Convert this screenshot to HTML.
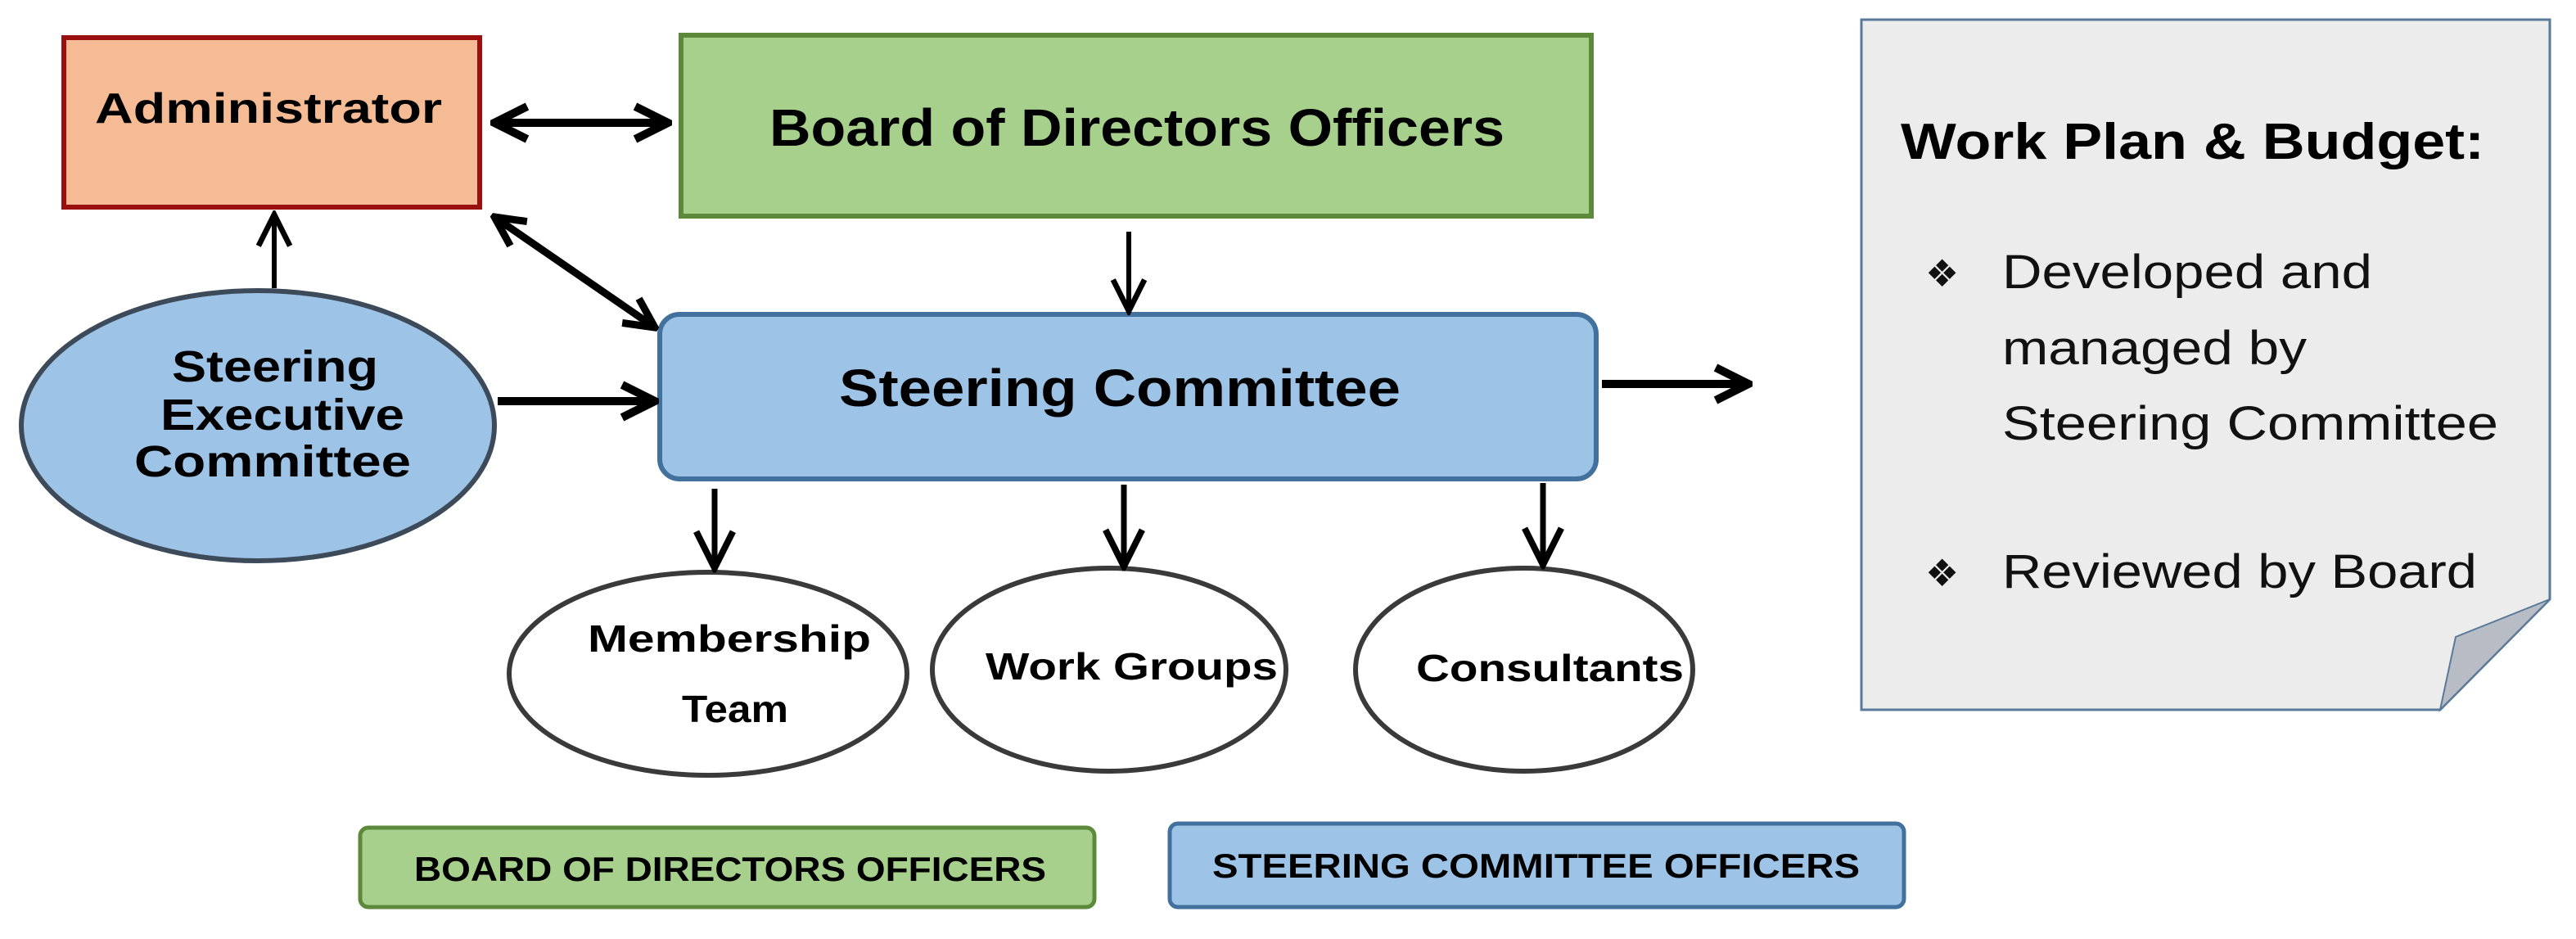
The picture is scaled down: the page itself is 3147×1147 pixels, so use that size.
<!DOCTYPE html>
<html><head><meta charset="utf-8"><style>
html,body{margin:0;padding:0;background:#fff;}
svg{display:block;}
text{font-family:"Liberation Sans",sans-serif;}
</style></head><body>
<svg width="3147" height="1147" viewBox="0 0 3147 1147" xmlns="http://www.w3.org/2000/svg">
<defs>
<marker id="ah" viewBox="0 0 10 10" refX="9" refY="5" markerWidth="5" markerHeight="5" orient="auto-start-reverse" markerUnits="strokeWidth">
<path d="M1,1 L9,5 L1,9" fill="none" stroke="#000" stroke-width="2"/>
</marker>
<marker id="ah2" viewBox="0 0 10 10" refX="9" refY="5" markerWidth="8" markerHeight="8" orient="auto-start-reverse" markerUnits="strokeWidth">
<path d="M1,1 L9,5 L1,9" fill="none" stroke="#000" stroke-width="1.4"/>
</marker>
</defs>

<!-- Note -->
<path d="M2274,24 L3115,24 L3115,732 L2981,867 L2274,867 Z" fill="#ececec" stroke="#5a7a9a" stroke-width="3"/>
<path d="M3115,732 L2981,867 L3000,778 Z" fill="#b8bcc4" stroke="#5a7a9a" stroke-width="2"/>
<text x="2322" y="194" font-size="62" font-weight="bold" textLength="713" lengthAdjust="spacingAndGlyphs">Work Plan &amp; Budget:</text>
<g font-size="58" fill="#111">
<text x="2352" y="350" font-size="46">❖</text>
<text x="2446" y="352" textLength="452" lengthAdjust="spacingAndGlyphs">Developed and</text>
<text x="2446" y="445" textLength="372" lengthAdjust="spacingAndGlyphs">managed by</text>
<text x="2446" y="537" textLength="606" lengthAdjust="spacingAndGlyphs">Steering Committee</text>
<text x="2352" y="716" font-size="46">❖</text>
<text x="2446" y="718" textLength="580" lengthAdjust="spacingAndGlyphs">Reviewed by Board</text>
</g>

<!-- Administrator -->
<rect x="78" y="46" width="508" height="207" fill="#f5bb95" stroke="#9a0f0f" stroke-width="6"/>
<text x="116" y="150" font-size="52" font-weight="bold" textLength="424" lengthAdjust="spacingAndGlyphs">Administrator</text>

<!-- Board -->
<rect x="832" y="43" width="1112" height="221" fill="#a8d08d" stroke="#5c8a3a" stroke-width="6"/>
<text x="940" y="178" font-size="64" font-weight="bold" textLength="898" lengthAdjust="spacingAndGlyphs">Board of Directors Officers</text>

<!-- Steering Committee -->
<rect x="806" y="384" width="1144" height="201" rx="24" fill="#9dc3e6" stroke="#41719c" stroke-width="6"/>
<text x="1025" y="496" font-size="64" font-weight="bold" textLength="686" lengthAdjust="spacingAndGlyphs">Steering Committee</text>

<!-- Steering Exec ellipse -->
<ellipse cx="315" cy="520" rx="289" ry="165" fill="#9dc3e6" stroke="#3d4a5a" stroke-width="6"/>
<g font-size="54" font-weight="bold">
<text x="210" y="466" textLength="252" lengthAdjust="spacingAndGlyphs">Steering</text>
<text x="196" y="525" textLength="298" lengthAdjust="spacingAndGlyphs">Executive</text>
<text x="164" y="582" textLength="338" lengthAdjust="spacingAndGlyphs">Committee</text>
</g>

<!-- sub ellipses -->
<g fill="#fff" stroke="#3a3a3a" stroke-width="6">
<ellipse cx="865" cy="823" rx="243" ry="124"/>
<ellipse cx="1355" cy="818" rx="216" ry="124"/>
<ellipse cx="1862" cy="818" rx="206" ry="124"/>
</g>
<g font-size="46" font-weight="bold">
<text x="718" y="796" textLength="346" lengthAdjust="spacingAndGlyphs">Membership</text>
<text x="833" y="882" textLength="130" lengthAdjust="spacingAndGlyphs">Team</text>
<text x="1204" y="830" textLength="357" lengthAdjust="spacingAndGlyphs">Work Groups</text>
<text x="1730" y="832" textLength="327" lengthAdjust="spacingAndGlyphs">Consultants</text>
</g>

<!-- Legend -->
<rect x="440" y="1011" width="897" height="97" rx="10" fill="#a8d08d" stroke="#5c8a3a" stroke-width="5"/>
<text x="506" y="1076" font-size="42" font-weight="bold" textLength="772" lengthAdjust="spacingAndGlyphs">BOARD OF DIRECTORS OFFICERS</text>
<rect x="1429" y="1006" width="897" height="102" rx="10" fill="#9dc3e6" stroke="#41719c" stroke-width="5"/>
<text x="1481" y="1072" font-size="42" font-weight="bold" textLength="791" lengthAdjust="spacingAndGlyphs">STEERING COMMITTEE OFFICERS</text>

<!-- Arrows -->
<g stroke="#000" fill="none">
<line x1="604" y1="150" x2="816" y2="150" stroke-width="10" marker-start="url(#ah)" marker-end="url(#ah)"/>
<line x1="604" y1="265" x2="800" y2="400" stroke-width="9" marker-start="url(#ah)" marker-end="url(#ah)"/>
<line x1="335" y1="352" x2="335" y2="262" stroke-width="6" marker-end="url(#ah2)"/>
<line x1="1379" y1="283" x2="1379" y2="380" stroke-width="6" marker-end="url(#ah2)"/>
<line x1="608" y1="490" x2="800" y2="490" stroke-width="10" marker-end="url(#ah)"/>
<line x1="1957" y1="469" x2="2136" y2="469" stroke-width="10" marker-end="url(#ah)"/>
<line x1="873" y1="597" x2="873" y2="694" stroke-width="7" marker-end="url(#ah2)"/>
<line x1="1373" y1="592" x2="1373" y2="692" stroke-width="7" marker-end="url(#ah2)"/>
<line x1="1885" y1="590" x2="1885" y2="690" stroke-width="7" marker-end="url(#ah2)"/>
</g>
</svg>
</body></html>
